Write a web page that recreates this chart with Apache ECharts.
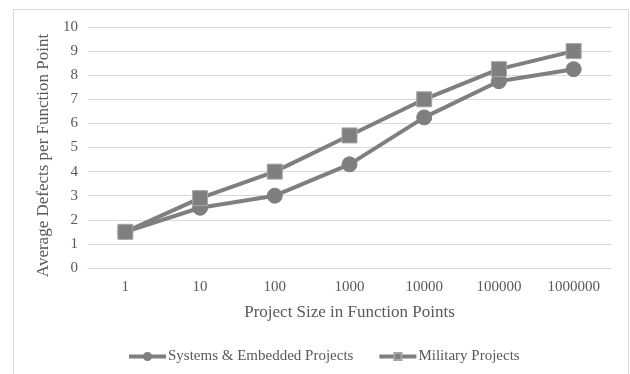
<!DOCTYPE html>
<html>
<head>
<meta charset="utf-8">
<script src="https://cdn.jsdelivr.net/npm/echarts@6/dist/echarts.min.js"></script>
<style>
  html, body { margin: 0; padding: 0; background: #ffffff; }
  #chart { width: 630px; height: 374px; }
</style>
</head>
<body>
<div id="chart"></div>
<script>
// Project size buckets (function points) and average defect rates
const sizes = ['1', '10', '100', '1000', '10000', '100000', '1000000'];
const systemsEmbedded = [1.5, 2.5, 3.0, 4.3, 6.25, 7.75, 8.25];
const military = [1.5, 2.9, 4.0, 5.5, 7.0, 8.25, 9.0];
const yTicks = { min: 0, max: 10, interval: 1 };

const font = '"Liberation Serif", "Times New Roman", serif';
const textColor = '#595959';
const lineColor = '#7f7f7f';

const chart = echarts.init(document.getElementById('chart'), null, { renderer: 'canvas' });

chart.setOption({
  backgroundColor: '#ffffff',
  animation: false,
  graphic: [{
    type: 'rect',
    shape: { x: 13.5, y: 9.5, width: 615, height: 370 },
    style: { fill: 'none', stroke: '#d9d9d9', lineWidth: 1 },
    silent: true
  }],
  grid: { left: 88, right: 19, top: 27, bottom: 106 },
  xAxis: {
    type: 'category',
    data: sizes,
    boundaryGap: true,
    name: 'Project Size in Function Points',
    nameLocation: 'middle',
    nameGap: 36,
    nameTextStyle: { fontFamily: font, fontSize: 17, color: textColor },
    axisLine: { show: true, lineStyle: { color: '#d9d9d9', width: 1 } },
    axisTick: { show: false },
    axisLabel: { fontFamily: font, fontSize: 15, color: textColor, margin: 12 }
  },
  yAxis: {
    type: 'value',
    min: yTicks.min,
    max: yTicks.max,
    interval: yTicks.interval,
    name: 'Average Defects per Function Point',
    nameLocation: 'middle',
    nameGap: 31,
    nameTextStyle: { fontFamily: font, fontSize: 17, color: textColor, padding: [0, 16, 0, 0] },
    axisLine: { show: false },
    axisTick: { show: false },
    axisLabel: { fontFamily: font, fontSize: 15, color: textColor, margin: 10 },
    splitLine: { lineStyle: { color: '#d9d9d9', width: 1 } }
  },
  legend: {
    bottom: 5,
    left: 122,
    itemGap: 24,
    itemWidth: 37,
    itemHeight: 9,
    lineStyle: { width: 4 },
    textStyle: { fontFamily: font, fontSize: 15, color: textColor, padding: [0, 0, 0, -3] },
    data: ['Systems & Embedded Projects', 'Military Projects']
  },
  series: [
    {
      name: 'Systems & Embedded Projects',
      type: 'line',
      data: systemsEmbedded,
      symbol: 'circle',
      symbolSize: 15,
      lineStyle: { color: lineColor, width: 4 },
      itemStyle: { color: lineColor, borderColor: lineColor, borderWidth: 1 }
    },
    {
      name: 'Military Projects',
      type: 'line',
      data: military,
      symbol: 'rect',
      symbolSize: 15,
      lineStyle: { color: lineColor, width: 4 },
      itemStyle: { color: lineColor, borderColor: '#a6a6a6', borderWidth: 1 }
    }
  ]
});
</script>
</body>
</html>
